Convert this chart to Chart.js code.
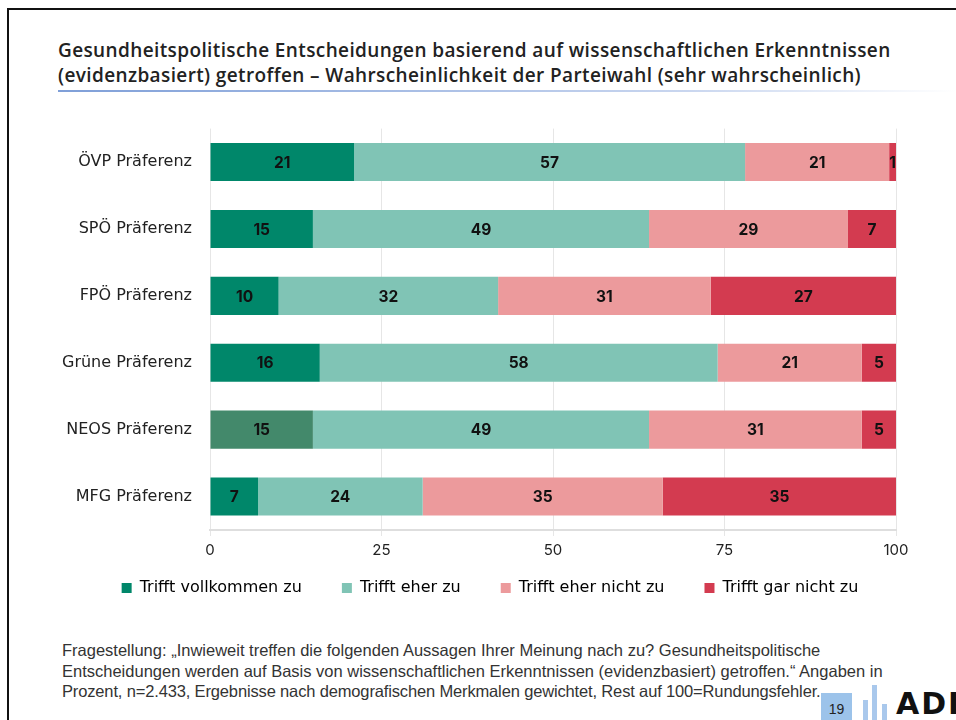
<!DOCTYPE html>
<html>
<head>
<meta charset="utf-8">
<script src="https://cdn.jsdelivr.net/npm/chart.js@4"></script>
<style>
  html, body { margin: 0; padding: 0; background: #fff; }
  body { width: 956px; height: 720px; position: relative; overflow: hidden; }
  .frame { position: absolute; left: 7px; top: 8px; width: 1000px; height: 800px; border: 2px solid #111; }
  .title { position: absolute; left: 58px; top: 38px; font-family: "Open Sans", sans-serif; font-weight: 600;
           font-size: 19px; letter-spacing: 0.38px; line-height: 25px; color: #222; white-space: nowrap; }
  .rule { position: absolute; left: 58px; top: 90px; width: 898px; height: 2px;
          background: linear-gradient(to right, #7f9fd8, #c9d6ef 70%, rgba(255,255,255,0)); }
  .chartbox { position: absolute; left: 0; top: 109px; width: 956px; height: 529px; }
  .note { position: absolute; left: 62px; top: 640px; font-family: "Liberation Sans Narrow", sans-serif;
          font-size: 16.5px; line-height: 20.5px; color: #333; white-space: nowrap; }
  .note .last { letter-spacing: -0.15px; }
  .page { position: absolute; left: 821px; top: 693px; width: 31px; height: 27px; background: #9cc3ea;
          font-family: "Liberation Sans Narrow", sans-serif; font-size: 14px; color: #222;
          text-align: center; line-height: 32px; }
  .bar { position: absolute; background: #a9c8ec; width: 5px; }
  .logo { position: absolute; left: 896px; top: 686px; font-family: "DejaVu Sans", sans-serif;
          font-weight: 700; font-size: 30px; letter-spacing: 2px; color: #111; }
</style>
</head>
<body>
<div class="frame"></div>
<div class="title">Gesundheitspolitische Entscheidungen basierend auf wissenschaftlichen Erkenntnissen<br>(evidenzbasiert) getroffen – Wahrscheinlichkeit der Parteiwahl (sehr wahrscheinlich)</div>
<div class="rule"></div>
<div class="chartbox"><canvas id="chart"></canvas></div>
<div class="note">Fragestellung: „Inwieweit treffen die folgenden Aussagen Ihrer Meinung nach zu? Gesundheitspolitische<br>Entscheidungen werden auf Basis von wissenschaftlichen Erkenntnissen (evidenzbasiert) getroffen.“ Angaben in<br><span class="last">Prozent, n=2.433, Ergebnisse nach demografischen Merkmalen gewichtet, Rest auf 100=Rundungsfehler.</span></div>
<div class="page">19</div>
<div class="bar" style="left:863px;top:700px;height:20px"></div>
<div class="bar" style="left:872px;top:685px;height:35px"></div>
<div class="bar" style="left:882px;top:704px;height:16px"></div>
<div class="logo">ADL</div>
<script>
const categories = ['ÖVP Präferenz', 'SPÖ Präferenz', 'FPÖ Präferenz', 'Grüne Präferenz', 'NEOS Präferenz', 'MFG Präferenz'];
const seriesNames = ['Trifft vollkommen zu', 'Trifft eher zu', 'Trifft eher nicht zu', 'Trifft gar nicht zu'];
const vollkommen = [21, 15, 10, 16, 15, 7];
const eher = [57, 49, 32, 58, 49, 24];
const eherNicht = [21, 29, 31, 21, 31, 35];
const garNicht = [1, 7, 27, 5, 5, 35];
const xTicks = [0, 25, 50, 75, 100];

const green = '#00876a';
const greenNeos = '#43896b';
const colors = [green, '#80c4b5', '#ec9a9c', '#d33b50'];

// Werte in die Balken schreiben
const valueLabels = {
  id: 'valueLabels',
  afterDatasetsDraw(chart) {
    const ctx = chart.ctx;
    const area = chart.chartArea;
    ctx.save();
    ctx.font = '700 15.5px Inter, sans-serif';
    ctx.fillStyle = '#111';
    ctx.textAlign = 'center';
    ctx.textBaseline = 'middle';
    chart.data.datasets.forEach((ds, i) => {
      chart.getDatasetMeta(i).data.forEach((el, j) => {
        const left = Math.max(Math.min(el.x, el.base), area.left);
        const right = Math.min(Math.max(el.x, el.base), area.right);
        ctx.fillText(String(ds.data[j]), (left + right) / 2, el.y + 1);
      });
    });
    ctx.restore();
  }
};

// Legende etwas nach rechts und oben schieben (wie im Original)
const legendShift = {
  id: 'legendShift',
  afterLayout(chart) {
    const lg = chart.legend;
    lg.left += 42; lg.right += 42;
    lg.top -= 24; lg.bottom -= 24;
  }
};

new Chart(document.getElementById('chart'), {
  type: 'bar',
  data: {
    labels: categories,
    datasets: [
      { label: seriesNames[0], data: vollkommen, backgroundColor: categories.map(c => c.startsWith('NEOS') ? greenNeos : green) },
      { label: seriesNames[1], data: eher, backgroundColor: colors[1] },
      { label: seriesNames[2], data: eherNicht, backgroundColor: colors[2] },
      { label: seriesNames[3], data: garNicht, backgroundColor: colors[3] }
    ].map(d => Object.assign(d, { barPercentage: 0.57, categoryPercentage: 1, borderWidth: 0 }))
  },
  options: {
    indexAxis: 'y',
    responsive: true,
    maintainAspectRatio: false,
    animation: false,
    layout: { padding: { top: 12, right: 60, bottom: 8, left: 0 } },
    scales: {
      x: {
        stacked: true,
        min: 0,
        max: 100,
        afterBuildTicks: axis => { axis.ticks = xTicks.map(v => ({ value: v })); },
        grid: { color: '#e6e6e6', lineWidth: 1, tickLength: 6, drawTicks: true },
        border: { color: '#dedede', width: 2 },
        ticks: { color: '#222', font: { family: 'Inter, sans-serif', size: 15 }, padding: 5 }
      },
      y: {
        stacked: true,
        grid: { display: false },
        border: { display: false },
        afterFit: axis => { axis.width = 210; },
        ticks: { color: '#222', font: { family: '"DejaVu Sans", sans-serif', size: 16 }, padding: 10 }
      }
    },
    plugins: {
      legend: {
        position: 'bottom',
        labels: {
          boxWidth: 10, boxHeight: 10, padding: 40,
          color: '#222', font: { family: '"DejaVu Sans", sans-serif', size: 16 },
          generateLabels: chart => seriesNames.map((n, i) => ({
            text: n, fillStyle: colors[i], strokeStyle: colors[i], lineWidth: 0, datasetIndex: i
          }))
        }
      },
      tooltip: { enabled: false }
    }
  },
  plugins: [valueLabels, legendShift]
});
</script>
</body>
</html>
